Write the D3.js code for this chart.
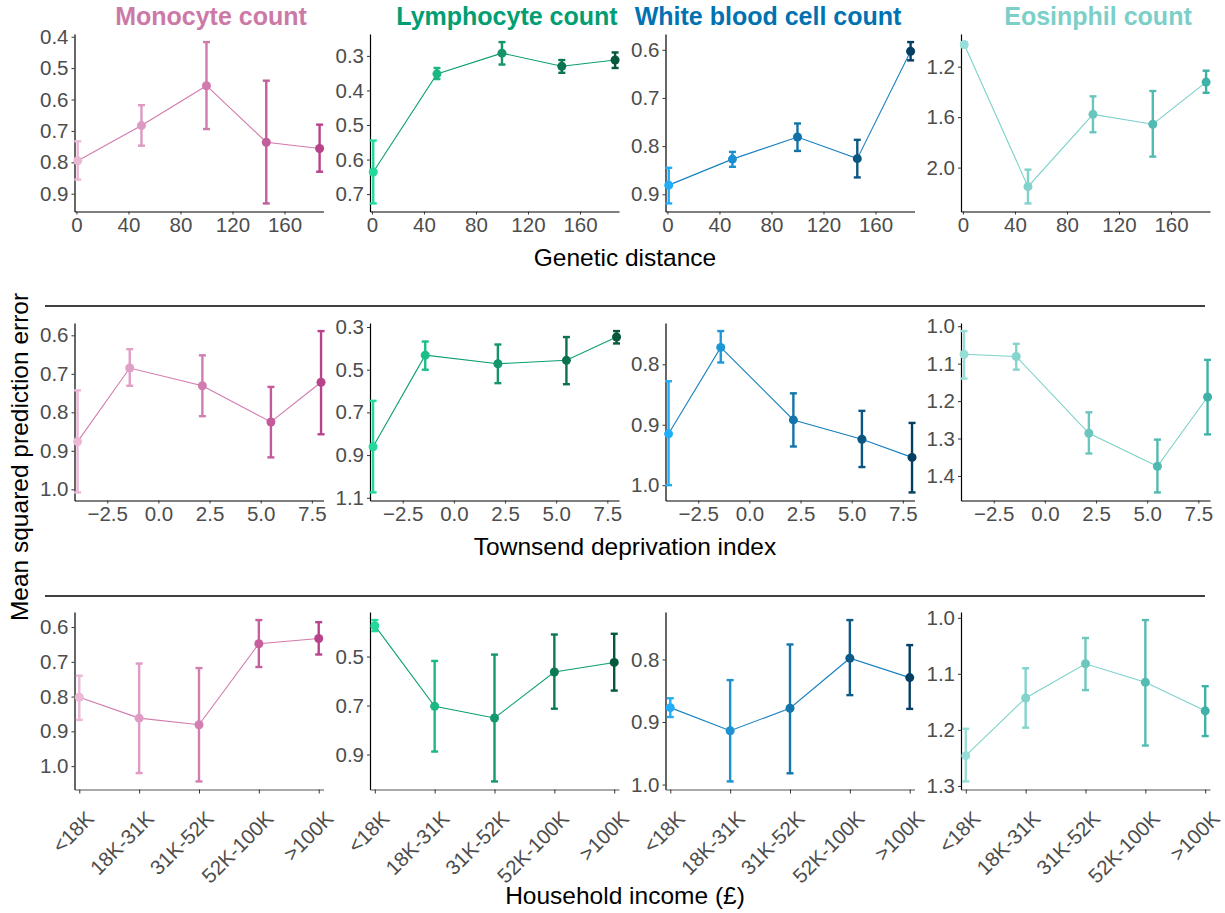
<!DOCTYPE html>
<html>
<head>
<meta charset="utf-8">
<script src="https://cdn.jsdelivr.net/npm/d3@7"></script>
<style>
  body { margin: 0; background: #fff; }
  text { font-family: "Liberation Sans", Arial, sans-serif; }
</style>
</head>
<body>
<div class="grafico"></div>
<script>
// traits (columns)
var traits = ["Monocyte count", "Lymphocyte count", "White blood cell count", "Eosinphil count"];

// genetic distance row
var geneticX = [1, 50, 100, 146, 187];
var geneticMse = [
  [0.795, 0.683, 0.556, 0.736, 0.756],
  [0.636, 0.352, 0.292, 0.330, 0.312],
  [0.881, 0.827, 0.781, 0.826, 0.603],
  [1.025, 2.151, 1.578, 1.656, 1.322]
];
var geneticMin = [
  [0.733, 0.618, 0.417, 0.540, 0.680],
  [0.545, 0.335, 0.260, 0.312, 0.290],
  [0.845, 0.812, 0.753, 0.787, 0.584],
  [1.005, 2.016, 1.435, 1.393, 1.232]
];
var geneticMax = [
  [0.855, 0.747, 0.694, 0.931, 0.830],
  [0.727, 0.367, 0.325, 0.349, 0.335],
  [0.919, 0.843, 0.810, 0.865, 0.622],
  [1.045, 2.284, 1.720, 1.913, 1.407]
];
var geneticXTicks = [0, 40, 80, 120, 160];
var geneticYTicks = [[0.4, 0.5, 0.6, 0.7, 0.8, 0.9], [0.3, 0.4, 0.5, 0.6, 0.7], [0.6, 0.7, 0.8, 0.9], [1.2, 1.6, 2.0]];
var geneticLim = [-1.5, 190];

// townsend deprivation row
var townsendX = [-3.95, -1.4, 2.15, 5.5, 7.95];
var townsendMse = [
  [0.876, 0.685, 0.731, 0.825, 0.722],
  [0.861, 0.432, 0.472, 0.456, 0.347],
  [0.915, 0.772, 0.892, 0.924, 0.954],
  [1.075, 1.081, 1.286, 1.374, 1.189]
];
var townsendMin = [
  [0.743, 0.636, 0.652, 0.734, 0.589],
  [0.646, 0.368, 0.382, 0.347, 0.319],
  [0.828, 0.745, 0.848, 0.877, 0.897],
  [1.013, 1.047, 1.230, 1.303, 1.090]
];
var townsendMax = [
  [1.008, 0.731, 0.810, 0.917, 0.857],
  [1.075, 0.500, 0.563, 0.568, 0.377],
  [1.000, 0.797, 0.936, 0.970, 1.012],
  [1.140, 1.116, 1.340, 1.444, 1.289]
];
var townsendXTicks = [-2.5, 0, 2.5, 5, 7.5];
var townsendYTicks = [[0.6, 0.7, 0.8, 0.9, 1.0], [0.3, 0.5, 0.7, 0.9, 1.1], [0.8, 0.9, 1.0], [1.0, 1.1, 1.2, 1.3, 1.4]];
var townsendLim = [-4.1, 8.07];

// household income row
var incomeCats = ["<18K", "18K-31K", "31K-52K", "52K-100K", ">100K"];
var incomeMse = [
  [0.802, 0.862, 0.881, 0.648, 0.633],
  [0.374, 0.703, 0.751, 0.563, 0.524],
  [0.877, 0.914, 0.878, 0.798, 0.829],
  [1.246, 1.143, 1.082, 1.115, 1.166]
];
var incomeMin = [
  [0.740, 0.705, 0.718, 0.580, 0.586],
  [0.351, 0.518, 0.492, 0.410, 0.407],
  [0.862, 0.833, 0.776, 0.737, 0.777],
  [1.198, 1.090, 1.036, 1.004, 1.122]
];
var incomeMax = [
  [0.867, 1.020, 1.044, 0.715, 0.679],
  [0.396, 0.888, 1.010, 0.713, 0.639],
  [0.892, 0.995, 0.982, 0.857, 0.879],
  [1.292, 1.196, 1.129, 1.228, 1.211]
];
var incomeYTicks = [[0.6, 0.7, 0.8, 0.9, 1.0], [0.5, 0.7, 0.9], [0.8, 0.9, 1.0], [1.0, 1.1, 1.2, 1.3]];

// colours per trait
var titleColor = ["#cc79a7", "#009e73", "#0072b2", "#7ccfc8"];
var lineColor = ["#d27aad", "#0b9e74", "#1680c2", "#7dd2ca"];
var lowColor = ["#ebb8d6", "#22d89c", "#22aef7", "#98ded8"];
var highColor = ["#b8438a", "#05583d", "#043e63", "#3fb1a6"];

//Dimensões
var width = 1225, height = 913;
var colLeft = [74.5, 370, 665.5, 961];
var panelW = 249;
var rowTop = [34, 323, 612];
var panelH = 177.5;

var svg = d3.select(".grafico")
  .append("svg")
    .attr("width", width)
    .attr("height", height);

function yScaleFor(mins, maxs) {
  var lo = d3.min(mins), hi = d3.max(maxs);
  var pad = (hi - lo) * 0.05;
  return [lo - pad, hi + pad];
}

function drawPanel(row, t, xs, mse, mins, maxs, yTicks, xScale, xAxis, rotate) {
  var top = rowTop[row], left = colLeft[t];
  var g = svg.append("g").attr("transform", "translate(" + left + "," + top + ")");

  var y = d3.scaleLinear()
    .domain(yScaleFor(mins, maxs))
    .range([0, panelH]);

  var color = d3.scaleLinear()
    .domain([0, 1])
    .range([lowColor[t], highColor[t]])
    .interpolate(d3.interpolateRgb);

  var xPos = function(i) { return xScale(xs[i]); };
  var frac = function(i) {
    if (rotate) return i / (xs.length - 1);
    return (xs[i] - xs[0]) / (xs[xs.length - 1] - xs[0]);
  };

  // y axis
  var yAx = g.append("g")
    .call(d3.axisLeft(y).tickValues(yTicks).tickFormat(d3.format(".1f")).tickSize(3).tickPadding(3).tickSizeOuter(0));
  yAx.select(".domain").attr("stroke", "#000").attr("stroke-width", 1.2);
  yAx.selectAll(".tick line").attr("stroke", "#333");
  yAx.selectAll("text").attr("fill", "#4d4d4d").style("font-size", "20.5px");

  // x axis
  var xAx = g.append("g")
    .attr("transform", "translate(0," + panelH + ")")
    .call(xAxis);
  xAx.select(".domain").attr("stroke", rotate ? "#555" : "#000").attr("stroke-width", 1.2);
  xAx.selectAll(".tick line").attr("stroke", "#333");
  xAx.selectAll("text").attr("fill", "#4d4d4d").style("font-size", "20.5px");
  if (rotate) {
    xAx.selectAll("text")
      .attr("text-anchor", "end")
      .attr("y", 0)
      .attr("dy", "0.72em")
      .attr("transform", "translate(5,20) rotate(-45)");
  }

  var idx = d3.range(xs.length);

  var line = d3.line()
    .x(function(i) { return xPos(i); })
    .y(function(i) { return y(mse[i]); });

  g.append("path")
    .datum(idx)
    .attr("d", line)
    .attr("fill", "none")
    .attr("stroke", lineColor[t])
    .attr("stroke-width", 1.1);

  var bars = g.selectAll(".bar")
    .data(idx)
    .enter()
    .append("g")
      .attr("class", "bar")
      .attr("stroke", function(i) { return color(frac(i)); })
      .attr("stroke-width", 2.4);

  bars.append("line")
    .attr("x1", xPos).attr("x2", xPos)
    .attr("y1", function(i) { return y(mins[i]); })
    .attr("y2", function(i) { return y(maxs[i]); });
  bars.append("line")
    .attr("x1", function(i) { return xPos(i) - 3.5; })
    .attr("x2", function(i) { return xPos(i) + 3.5; })
    .attr("y1", function(i) { return y(mins[i]); })
    .attr("y2", function(i) { return y(mins[i]); });
  bars.append("line")
    .attr("x1", function(i) { return xPos(i) - 3.5; })
    .attr("x2", function(i) { return xPos(i) + 3.5; })
    .attr("y1", function(i) { return y(maxs[i]); })
    .attr("y2", function(i) { return y(maxs[i]); });

  g.selectAll("circle")
    .data(idx)
    .enter()
    .append("circle")
      .attr("cx", xPos)
      .attr("cy", function(i) { return y(mse[i]); })
      .attr("r", 4.5)
      .attr("fill", function(i) { return color(frac(i)); });
}

traits.forEach(function(name, t) {
  // row 1: genetic distance
  var xg = d3.scaleLinear().domain(geneticLim).range([0, panelW]);
  drawPanel(0, t, geneticX, geneticMse[t], geneticMin[t], geneticMax[t], geneticYTicks[t], xg,
    d3.axisBottom(xg).tickValues(geneticXTicks).tickFormat(d3.format("d")).tickSize(3).tickPadding(3).tickSizeOuter(0), false);

  // row 2: townsend
  var xt = d3.scaleLinear().domain(townsendLim).range([0, panelW]);
  drawPanel(1, t, townsendX, townsendMse[t], townsendMin[t], townsendMax[t], townsendYTicks[t], xt,
    d3.axisBottom(xt).tickValues(townsendXTicks).tickFormat(d3.format(".1f")).tickSize(3).tickPadding(3).tickSizeOuter(0), false);

  // row 3: income
  var xc = d3.scalePoint().domain(incomeCats).range([0, panelW]).padding(0.08);
  drawPanel(2, t, incomeCats, incomeMse[t], incomeMin[t], incomeMax[t], incomeYTicks[t],
    function(c) { return xc(c); },
    d3.axisBottom(xc).tickSize(4).tickPadding(3).tickSizeOuter(0), true);
});

// títulos
var titleX = [211, 507, 768, 1098];
svg.selectAll(".title")
  .data(traits)
  .enter()
  .append("text")
    .attr("class", "title")
    .attr("x", function(d, i) { return titleX[i]; })
    .attr("y", 25)
    .attr("text-anchor", "middle")
    .attr("fill", function(d, i) { return titleColor[i]; })
    .style("font-size", "25px")
    .style("font-weight", "bold")
    .text(function(d) { return d; });

// separadores
[306, 596].forEach(function(yy) {
  svg.append("line")
    .attr("x1", 45).attr("x2", 1205)
    .attr("y1", yy).attr("y2", yy)
    .attr("stroke", "#000").attr("stroke-width", 1.5);
});

var axisTitles = [["Genetic distance", 266], ["Townsend deprivation index", 555], ["Household income (£)", 904]];
axisTitles.forEach(function(a) {
  svg.append("text")
    .attr("x", 625).attr("y", a[1])
    .attr("text-anchor", "middle")
    .attr("fill", "#000")
    .style("font-size", "24.5px")
    .text(a[0]);
});

svg.append("text")
  .attr("transform", "translate(28,457) rotate(-90)")
  .attr("text-anchor", "middle")
  .attr("fill", "#000")
  .style("font-size", "24.5px")
  .text("Mean squared prediction error");
</script>
</body>
</html>
